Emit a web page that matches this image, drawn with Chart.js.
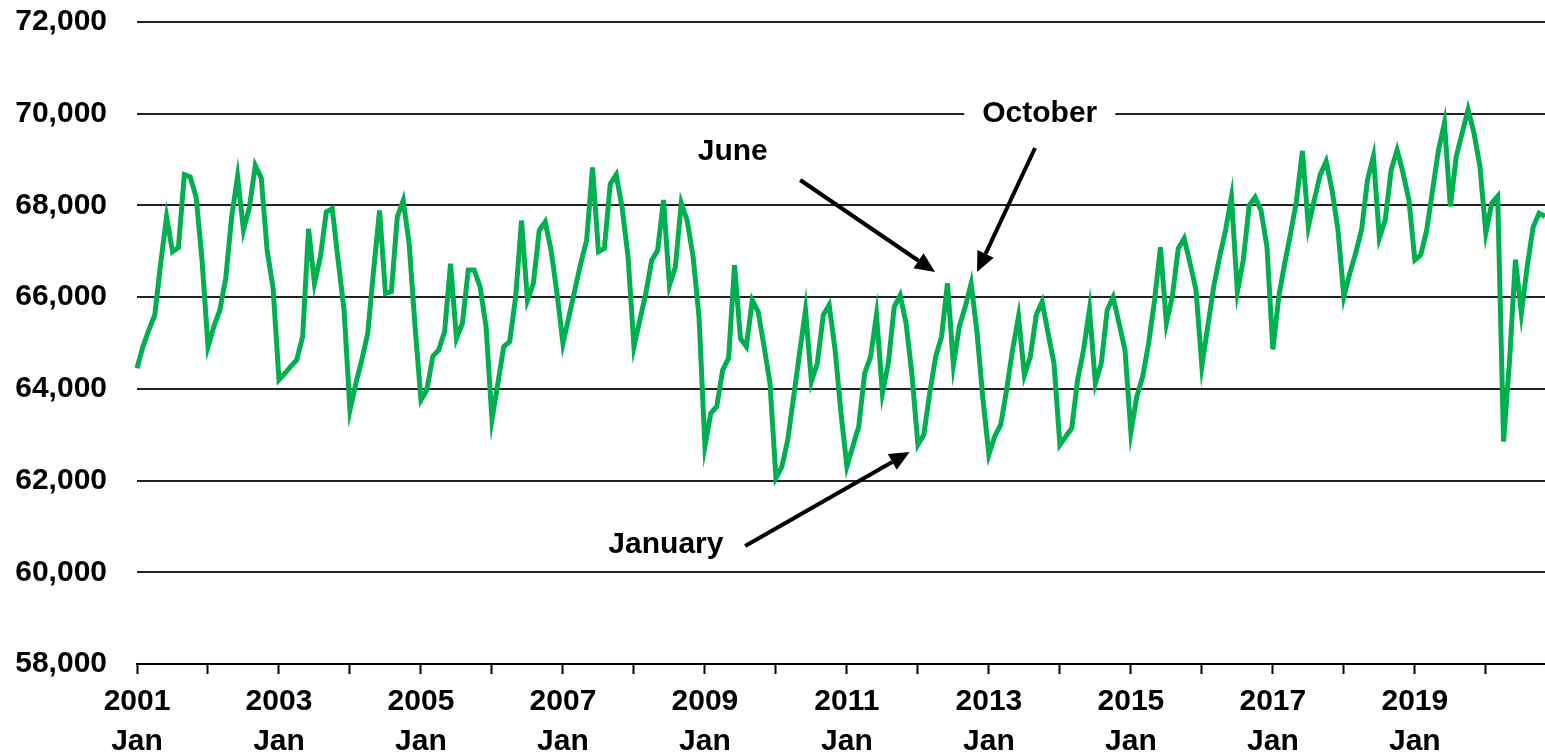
<!DOCTYPE html>
<html>
<head>
<meta charset="utf-8">
<script src="https://cdn.jsdelivr.net/npm/chart.js@4.4.1/dist/chart.umd.min.js"></script>
<style>
  html, body { margin: 0; padding: 0; background: #fff; }
  #wrap { width: 1545px; height: 753px; }
</style>
</head>
<body>
<div id="wrap"><canvas id="chart" width="1545" height="753"></canvas></div>
<script>
var YEARS = ['2001','2002','2003','2004','2005','2006','2007','2008','2009','2010',
             '2011','2012','2013','2014','2015','2016','2017','2018','2019','2020'];
var MONTHS = ['Jan','Feb','Mar','Apr','May','Jun','Jul','Aug','Sep','Oct','Nov','Dec'];
var TICK_LABELS = ['2001','2003','2005','2007','2009','2011','2013','2015','2017','2019'];
var Y_TICKS = [58000, 60000, 62000, 64000, 66000, 68000, 70000, 72000];

// monthly values, one row per year (2020 ends in November)
var values = [
  64450, 64920, 65280, 65610, 66730, 67750, 66990, 67080, 68670, 68620, 68180, 66800,
  64920, 65360, 65720, 66410, 67750, 68630, 67460, 67960, 68870, 68600, 67020, 66200,
  64200, 64340, 64490, 64630, 65140, 67490, 66300, 66880, 67860, 67930, 66800, 65720,
  63540, 64120, 64630, 65210, 66590, 67890, 66080, 66120, 67750, 68110, 67170, 65360,
  63760, 63980, 64710, 64850, 65250, 66730, 65100, 65430, 66590, 66590, 66220, 65360,
  63330, 64120, 64920, 65030, 66000, 67670, 65930, 66300, 67460, 67640, 67020, 66080,
  64990, 65570, 66150, 66730, 67240, 68830, 66990, 67060, 68470, 68670, 67960, 66880,
  64920, 65500, 66080, 66800, 67020, 68120, 66250, 66660, 68050, 67670, 66880, 65570,
  62750, 63470, 63620, 64410, 64670, 66700, 65100, 64920, 65930, 65680, 64920, 64120,
  62060, 62300, 62890, 63830, 64780, 65720, 64160, 64560, 65610, 65830, 64850, 63470,
  62310, 62750, 63180, 64340, 64700, 65610, 63910, 64560, 65790, 66040, 65430, 64300,
  62780, 63000, 63910, 64700, 65140, 66300, 64520, 65360, 65790, 66300, 65220, 63770,
  62570, 62970, 63220, 63980, 64850, 65570, 64300, 64700, 65610, 65900, 65210, 64560,
  62780, 62960, 63140, 64200, 64850, 65730, 64120, 64560, 65720, 66000, 65430, 64850,
  63050, 63830, 64270, 64990, 65930, 67090, 65430, 66010, 67060, 67280, 66740, 66160,
  64500, 65360, 66230, 66880, 67460, 68180, 66120, 66810, 68000, 68180, 67890, 67100,
  64860, 66010, 66740, 67390, 68110, 69190, 67540, 68120, 68670, 68960, 68340, 67470,
  66010, 66520, 66960, 67470, 68560, 69070, 67290, 67690, 68780, 69210, 68710, 68120,
  66810, 66920, 67460, 68340, 69210, 69800, 67980, 69070, 69580, 70090, 69580, 68850,
  67400, 68050, 68200, 62850, 64600, 66820, 65650, 66670, 67530, 67830, 67760
];

var categories = [];
YEARS.forEach(function(y) {
  MONTHS.forEach(function(m) {
    if (categories.length < values.length) categories.push(m + ' ' + y);
  });
});

var FONT = '"Liberation Sans", Arial, sans-serif';

// callouts, placed in data coordinates (category index, value)
var notes = [
  { text: 'June', at: [100.7, 69165], from: [112.1, 68555], to: [134.9, 66548] },
  { text: 'October', at: [152.6, 70000], from: [151.8, 69252], to: [142.0, 66548], box: true },
  { text: 'January', at: [89.4, 60595], from: [102.8, 60573], to: [130.6, 62623] }
];

var notesPlugin = {
  id: 'notes',
  afterDatasetsDraw: function(chart) {
    var c = chart.ctx, xs = chart.scales.x, ys = chart.scales.y;
    c.save();
    c.font = 'bold 30px ' + FONT;
    c.textAlign = 'center';
    c.textBaseline = 'middle';
    notes.forEach(function(n) {
      var tx = xs.getPixelForValue(n.at[0]), ty = ys.getPixelForValue(n.at[1]);
      if (n.box) {
        var w = c.measureText(n.text).width + 36;
        c.fillStyle = '#fff';
        c.fillRect(tx - w / 2, ty - 18, w, 36);
      }
      c.fillStyle = '#000';
      c.fillText(n.text, tx, ty);

      var x1 = xs.getPixelForValue(n.from[0]), y1 = ys.getPixelForValue(n.from[1]);
      var x2 = xs.getPixelForValue(n.to[0]), y2 = ys.getPixelForValue(n.to[1]);
      var a = Math.atan2(y2 - y1, x2 - x1);
      var len = 20, half = 9;
      var bx = x2 - Math.cos(a) * len, by = y2 - Math.sin(a) * len;
      c.strokeStyle = '#000';
      c.lineWidth = 4;
      c.beginPath();
      c.moveTo(x1, y1);
      c.lineTo(bx, by);
      c.stroke();
      c.beginPath();
      c.moveTo(x2, y2);
      c.lineTo(bx + Math.sin(a) * half, by - Math.cos(a) * half);
      c.lineTo(bx - Math.sin(a) * half, by + Math.cos(a) * half);
      c.closePath();
      c.fill();
    });
    c.restore();
  }
};

var chart = new Chart(document.getElementById('chart'), {
  type: 'line',
  data: {
    labels: categories,
    datasets: [{
      data: values,
      borderColor: '#00B050',
      borderWidth: 5,
      pointRadius: 0,
      tension: 0,
      fill: false
    }]
  },
  options: {
    responsive: false,
    animation: false,
    layout: { padding: { top: 22, right: 0, left: 0, bottom: 0 } },
    plugins: { legend: { display: false }, tooltip: { enabled: false } },
    scales: {
      x: {
        offset: false,
        afterBuildTicks: function(scale) {
          scale.ticks = scale.ticks.filter(function(t) { return t.value % 12 === 0; });
        },
        afterFit: function(scale) {
          scale.height = 89;
          scale.paddingLeft = 0;
          scale.paddingRight = 0;
        },
        grid: {
          drawOnChartArea: false,
          drawTicks: true,
          tickLength: 10,
          tickWidth: 2,
          tickColor: '#000'
        },
        border: { display: true, color: '#000', width: 2 },
        ticks: {
          autoSkip: false,
          maxRotation: 0,
          padding: 8,
          color: '#000',
          font: { family: FONT, size: 30, weight: 'bold', lineHeight: 1.33 },
          callback: function(value) {
            var parts = categories[value].split(' ');
            if (parts[0] === 'Jan' && TICK_LABELS.indexOf(parts[1]) >= 0) return [parts[1], parts[0]];
            return '';
          }
        }
      },
      y: {
        min: Y_TICKS[0],
        max: Y_TICKS[Y_TICKS.length - 1],
        afterFit: function(scale) {
          scale.width = 137;
          scale.paddingTop = 0;
          scale.paddingBottom = 0;
        },
        grid: { color: '#222', lineWidth: 2, drawTicks: false },
        border: { display: false },
        ticks: {
          stepSize: 2000,
          padding: 30,
          color: '#000',
          font: { family: FONT, size: 30, weight: 'bold' },
          callback: function(v) { return v.toLocaleString('en-US'); }
        }
      }
    }
  },
  plugins: [notesPlugin]
});
</script>
</body>
</html>
